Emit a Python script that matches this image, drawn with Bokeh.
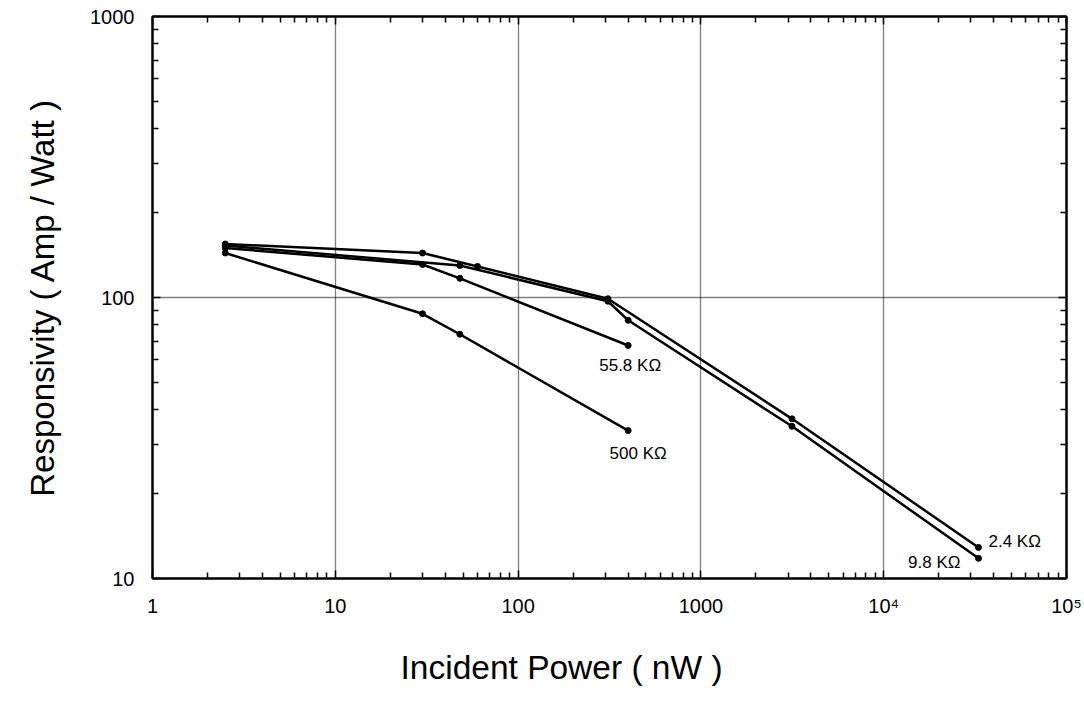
from bokeh.plotting import figure
from bokeh.models import FixedTicker, LogAxis, ColumnDataSource, Range1d, Title
from bokeh.core.properties import value
from bokeh.embed import file_html
from bokeh.resources import INLINE

# ---- data ----
x_24k = [2.5, 30, 60, 310, 3150, 33000]
y_24k = [155, 144, 129, 99, 37, 12.9]

x_98k = [2.5, 48, 310, 400, 3150, 33000]
y_98k = [153, 130, 97, 83, 34.8, 11.8]

x_558k = [2.5, 30, 48, 400]
y_558k = [150, 131, 117, 67.5]

x_500k = [2.5, 30, 48, 400]
y_500k = [144, 87.5, 74, 33.6]

series_labels = ["2.4 K\u03a9", "9.8 K\u03a9", "55.8 K\u03a9", "500 K\u03a9"]

x_ticks = [1, 10, 100, 1000, 10000, 100000]
x_tick_labels = ["1", "10", "100", "1000", "10\u2074", "10\u2075"]
y_ticks = [10, 100, 1000]
y_tick_labels = ["10", "100", "1000"]

x_title = "Incident Power ( nW )"
y_title = "Responsivity ( Amp / Watt )"

FONT = "Liberation Sans"

p = figure(width=1084, height=714, x_axis_type="log", y_axis_type="log",
           x_range=Range1d(1, 1e5), y_range=Range1d(10, 1000),
           output_backend="svg", toolbar_location=None,
           min_border_left=152, min_border_right=18, min_border_top=16, min_border_bottom=136)
p.background_fill_color = "white"
p.border_fill_color = "white"
p.outline_line_color = "black"
p.outline_line_width = 2

minor_x = [m * 10 ** d for d in range(0, 5) for m in range(2, 10)]
minor_y = [m * 10 ** d for d in range(1, 3) for m in range(2, 10)]
xt = FixedTicker(ticks=x_ticks, minor_ticks=minor_x)
yt = FixedTicker(ticks=y_ticks, minor_ticks=minor_y)

def style_axis(ax, labels=True):
    ax.axis_line_color = "black"
    ax.axis_line_width = 2
    ax.major_tick_in = 8
    ax.major_tick_out = 0
    ax.minor_tick_in = 6
    ax.minor_tick_out = 0
    ax.major_tick_line_width = 1.5
    ax.minor_tick_line_width = 1.5
    ax.major_tick_line_color = "black"
    ax.minor_tick_line_color = "black"
    ax.major_label_text_font = FONT
    ax.major_label_text_font_size = "20px"
    ax.major_label_text_color = "black"
    ax.axis_label_text_color = "black"
    if not labels:
        ax.major_label_text_font_size = "0px"
        ax.major_label_text_alpha = 0

xa = p.xaxis[0]
xa.ticker = xt
xa.major_label_overrides = {t: l for t, l in zip(x_ticks, x_tick_labels)}
style_axis(xa)
xa.major_label_standoff = 16

ya = p.yaxis[0]
ya.ticker = yt
ya.major_label_overrides = {t: l for t, l in zip(y_ticks, y_tick_labels)}
style_axis(ya)
ya.major_label_standoff = 18
ya.axis_label = y_title
ya.axis_label_text_font = FONT
ya.axis_label_text_font_size = "33px"
ya.axis_label_text_font_style = "normal"
ya.axis_label_standoff = 26

top_ax = LogAxis(ticker=FixedTicker(ticks=x_ticks, minor_ticks=minor_x))
style_axis(top_ax, labels=False)
p.add_layout(top_ax, "above")
right_ax = LogAxis(ticker=FixedTicker(ticks=y_ticks, minor_ticks=minor_y))
style_axis(right_ax, labels=False)
p.add_layout(right_ax, "right")

# x-axis title (sits left of the frame centre in the reference)
p.add_layout(Title(text=x_title, align="left", offset=248, standoff=54,
                   text_font=FONT, text_font_size="33.5px", text_font_style="normal",
                   text_color="black"), "below")

for g in (p.xgrid[0], p.ygrid[0]):
    g.grid_line_color = "black"
    g.grid_line_dash = "1 1"
    g.grid_line_width = 1.3
    g.grid_line_alpha = 1.0
p.xgrid[0].ticker = xt
p.ygrid[0].ticker = yt

all_series = [(x_24k, y_24k), (x_98k, y_98k), (x_558k, y_558k), (x_500k, y_500k)]
for xs, ys in all_series:
    p.line(xs, ys, line_color="black", line_width=2.5)
    p.scatter(xs, ys, size=6, fill_color="black", line_color="black")

# series labels anchored at each series' last point, offset in screen pixels
label_specs = [
    (0, 10, -6, "left"),
    (1, -18, 4, "right"),
    (2, 2, 20, "center"),
    (3, 10, 23, "center"),
]
for (idx, dx, dy, align) in label_specs:
    xs, ys = all_series[idx]
    src = ColumnDataSource(dict(x=[xs[-1]], y=[ys[-1]], t=[series_labels[idx]]))
    p.text(x="x", y="y", text="t", source=src, x_offset=dx, y_offset=dy,
           text_align=align, text_baseline="middle",
           text_font=value(FONT), text_font_size="17px", text_color="black")

open("out.html", "w").write(file_html(p, INLINE))
